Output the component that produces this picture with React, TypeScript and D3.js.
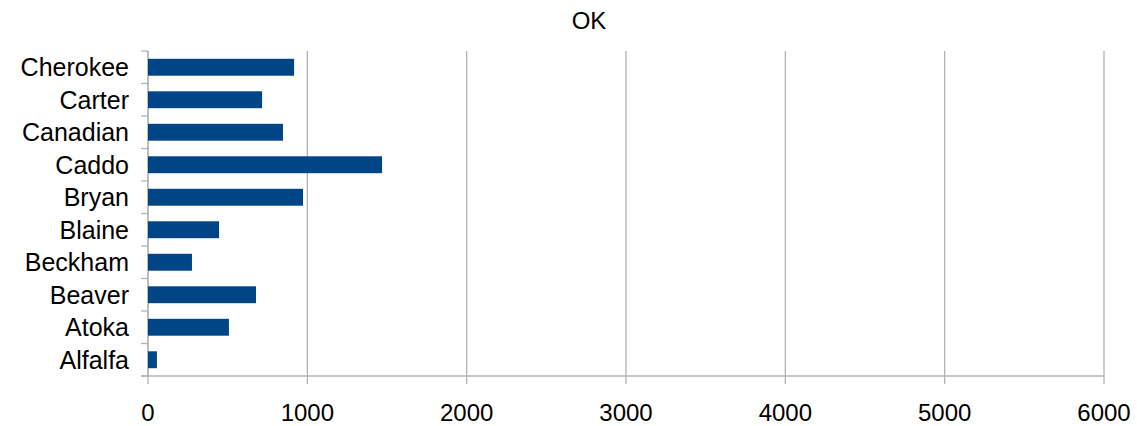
import React from "react";
import * as d3 from "d3";

const title = "OK";
const categories = ["Alfalfa", "Atoka", "Beaver", "Beckham", "Blaine", "Bryan", "Caddo", "Canadian", "Carter", "Cherokee"];
const values = [56, 508, 678, 276, 446, 973, 1469, 847, 716, 917];
const xTicks = [0, 1000, 2000, 3000, 4000, 5000, 6000];

const W = 1137;
const H = 426;
const left = 148;
const right = 1104;
const top = 51;
const bottom = 376;
const font = "'Liberation Sans', Arial, sans-serif";

export default function App() {
  const x = d3.scaleLinear().domain([0, 6000]).range([left, right]);
  const y = d3
    .scaleBand<string>()
    .domain([...categories].reverse())
    .range([top, bottom])
    .paddingInner(0.48)
    .paddingOuter(0.24);
  const band = (bottom - top) / categories.length;
  const edges = d3.range(categories.length + 1).map((i) => top + i * band);

  return (
    <svg
      width={W}
      height={H}
      style={{ position: "absolute", left: 0, top: 0, background: "#fff" }}
    >
      <rect x={0} y={0} width={W} height={H} fill="#fff" />
      <text x={589} y={29} textAnchor="middle" fontFamily={font} fontSize={24} fill="#000">
        {title}
      </text>
      {xTicks.map((t) => (
        <line key={"g" + t} x1={x(t)} x2={x(t)} y1={top} y2={bottom + 8} stroke="#b3b3b3" strokeWidth={1.3} />
      ))}
      {edges.map((e, i) => (
        <line key={"yt" + i} x1={left - 7} x2={left} y1={e} y2={e} stroke="#b3b3b3" strokeWidth={1.3} />
      ))}
      <line x1={left} x2={left} y1={top} y2={bottom} stroke="#b3b3b3" strokeWidth={1.3} />
      <line x1={left - 7} x2={right} y1={bottom} y2={bottom} stroke="#b3b3b3" strokeWidth={1.3} />
      {categories.map((c, i) => (
        <rect key={c} x={x(0)} y={y(c)} width={x(values[i]) - x(0)} height={y.bandwidth()} fill="#004586" />
      ))}
      {categories.map((c) => (
        <text
          key={"l" + c}
          x={129}
          y={(y(c) as number) + y.bandwidth() / 2}
          dy="0.35em"
          textAnchor="end"
          fontFamily={font}
          fontSize={25}
          fill="#000"
        >
          {c}
        </text>
      ))}
      {xTicks.map((t) => (
        <text key={"t" + t} x={x(t)} y={421} textAnchor="middle" fontFamily={font} fontSize={24} fill="#000">
          {t}
        </text>
      ))}
    </svg>
  );
}
